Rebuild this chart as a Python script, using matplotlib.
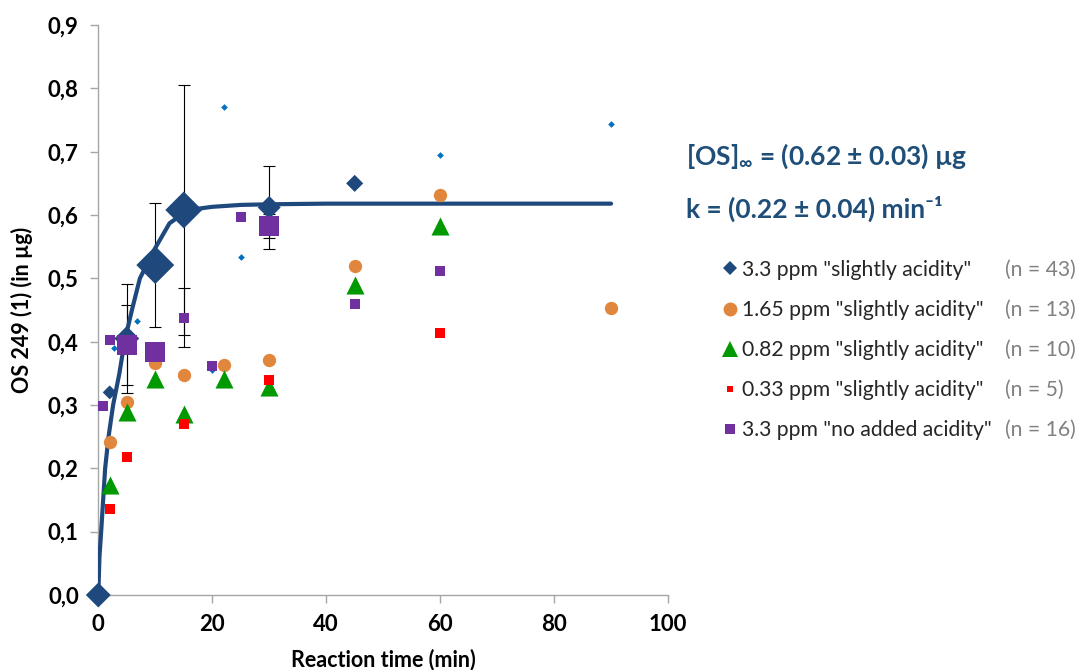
import matplotlib
matplotlib.use("Agg")
import matplotlib.pyplot as plt
from matplotlib.lines import Line2D
from matplotlib.ticker import FuncFormatter, MultipleLocator

plt.rcParams['font.family'] = ['Lato', 'DejaVu Sans']
plt.rcParams['mathtext.fontset'] = 'custom'
plt.rcParams['mathtext.rm'] = 'Lato'
plt.rcParams['mathtext.bf'] = 'Lato:bold'

# 3.3 ppm "slightly acidity" (means + a few single points)
t_33 = [0, 2, 5, 10, 15, 30, 45]
y_33 = [0.0, 0.32, 0.405, 0.521, 0.608, 0.612, 0.65]
t_33_err = [5, 10, 15, 30]
y_33_err = [0.405, 0.521, 0.608, 0.612]
e_33 = [0.086, 0.098, 0.198, 0.065]

# individual 3.3 ppm measurements (small dots)
t_ind = [2.8, 6.8, 20, 22, 25, 60, 90]
y_ind = [0.39, 0.433, 0.355, 0.77, 0.534, 0.695, 0.743]

t_165 = [2, 5, 10, 15, 22, 30, 45, 60, 90]
y_165 = [0.241, 0.305, 0.366, 0.348, 0.364, 0.371, 0.52, 0.632, 0.453]

t_082 = [2, 5, 10, 15, 22, 30, 45, 60]
y_082 = [0.174, 0.289, 0.341, 0.286, 0.341, 0.328, 0.49, 0.582]

t_033 = [2, 5, 15, 30, 60]
y_033 = [0.136, 0.218, 0.27, 0.339, 0.413]

# 3.3 ppm "no added acidity"
t_na = [0.75, 2, 15, 20, 25, 45, 60]
y_na = [0.299, 0.403, 0.438, 0.362, 0.597, 0.459, 0.511]
t_na_mean = [5, 10, 30]
y_na_mean = [0.395, 0.383, 0.582]
t_na_err = [5, 15, 30]
y_na_err = [0.395, 0.438, 0.582]
e_na = [0.063, 0.047, 0.019]

# fitted curve
fit_t = [0, 0.2, 0.5, 1.2, 1.8, 2.6, 3.7, 4.6, 5.9, 7.3, 10, 12.5, 15, 17.5, 20, 25, 30, 40, 90]
fit_y = [0, 0.06, 0.1, 0.2, 0.25, 0.3, 0.35, 0.4, 0.45, 0.5, 0.548, 0.587, 0.603, 0.61,
         0.613, 0.616, 0.617, 0.618, 0.618]

labels = ['3.3 ppm "slightly acidity"', '1.65 ppm "slightly acidity"',
          '0.82 ppm "slightly acidity"', '0.33 ppm "slightly acidity"',
          '3.3 ppm "no added acidity"']
n_labels = ['(n = 43)', '(n = 13)', '(n = 10)', '(n = 5)', '(n = 16)']

navy = '#1F497D'
c_ind = '#0070C0'
orange = '#E1873D'
green = '#009900'
red = '#FF0000'
purple = '#7030A0'
gray = '#A6A6A6'

size_33 = [12.7, 7.1, 12.7, 19.3, 18.8, 11.7, 8.7]

fig = plt.figure(figsize=(10.85, 6.7), dpi=100)
ax = fig.add_axes([0.0906, 0.1119, 0.5251, 0.8507])

ax.errorbar(t_33_err, y_33_err, yerr=e_33, fmt='none', ecolor='black',
            elinewidth=0.8, capsize=4, capthick=0.8, zorder=2)
ax.errorbar(t_na_err, y_na_err, yerr=e_na, fmt='none', ecolor='black',
            elinewidth=0.8, capsize=4, capthick=0.8, zorder=2)
ax.plot(fit_t, fit_y, color=navy, lw=3, zorder=3, solid_capstyle='round',
        solid_joinstyle='round')
ax.scatter(t_33, y_33, s=[m ** 2 for m in size_33], marker='D', color=navy,
           linewidths=0, zorder=4, clip_on=False)
ax.scatter(t_ind, y_ind, s=3.4 ** 2, marker='D', color=c_ind, linewidths=0, zorder=5)
ax.scatter(t_165, y_165, s=9.6 ** 2, marker='o', color=orange, linewidths=0, zorder=6)
ax.scatter(t_082, y_082, s=13 ** 2, marker='^', color=green, linewidths=0, zorder=7)
ax.scatter(t_033, y_033, s=6.7 ** 2, marker='s', color=red, linewidths=0, zorder=8)
ax.scatter(t_na, y_na, s=7.9 ** 2, marker='s', color=purple, linewidths=0, zorder=9, clip_on=False)
ax.scatter(t_na_mean, y_na_mean, s=13.7 ** 2, marker='s', color=purple, linewidths=0, zorder=9)

ax.set_xlim(0, 100)
ax.set_ylim(0, 0.9)
ax.xaxis.set_major_locator(MultipleLocator(20))
ax.yaxis.set_major_locator(MultipleLocator(0.1))
ax.yaxis.set_major_formatter(FuncFormatter(lambda v, p: f"{v:.1f}".replace('.', ',')))
for s in ['top', 'right']:
    ax.spines[s].set_visible(False)
for s in ['left', 'bottom']:
    ax.spines[s].set_color(gray)
    ax.spines[s].set_linewidth(1)
ax.tick_params(axis='y', length=6, width=1, color=gray, pad=8, labelsize=16)
ax.tick_params(axis='x', length=5.5, width=1, color=gray, pad=8, labelsize=16)
for lab in ax.get_xticklabels() + ax.get_yticklabels():
    lab.set_fontweight('bold')

fig.text(383 / 1085, 1 - 660 / 670, 'Reaction time (min)', ha='center', va='center',
         fontsize=15.5, fontweight='bold')
fig.text(22 / 1085, 1 - 310 / 670, 'OS 249 (1) (in µg)', ha='center', va='center',
         rotation=90, fontsize=15.5, fontweight='bold')

fig.text(686 / 1085, 1 - 165 / 670, r'[OS]$_{\mathbf{\infty}}$ = (0.62 ± 0.03) µg',
         ha='left', va='baseline', fontsize=19, fontweight='bold', color='#1F4E79')
fig.text(686 / 1085, 1 - 218 / 670, 'k = (0.22 ± 0.04) min⁻¹',
         ha='left', va='baseline', fontsize=19, fontweight='bold', color='#1F4E79')

handles = [
    Line2D([], [], ls='none', marker='D', ms=7.5, color=navy, mew=0),
    Line2D([], [], ls='none', marker='o', ms=10, color=orange, mew=0),
    Line2D([], [], ls='none', marker='^', ms=11.3, color=green, mew=0),
    Line2D([], [], ls='none', marker='s', ms=5, color=red, mew=0),
    Line2D([], [], ls='none', marker='s', ms=7.7, color=purple, mew=0),
]
leg = fig.legend(handles, labels, loc='center left', bbox_to_anchor=(722 / 1085, 1 - 350 / 670),
                 frameon=False, fontsize=15.2, handlelength=0.72, handletextpad=0.25,
                 labelspacing=0.95, borderpad=0, borderaxespad=0)
for t in leg.get_texts():
    t.set_color('#262626')

fig.canvas.draw()
inv = fig.transFigure.inverted()
for t, nl in zip(leg.get_texts(), n_labels):
    bb = t.get_window_extent()
    yc = inv.transform(((bb.x0 + bb.x1) / 2, (bb.y0 + bb.y1) / 2))[1]
    fig.text(1005 / 1085, yc, nl, ha='left', va='center', fontsize=15.2, color='#808080')

fig.savefig('out.png', dpi=100)
